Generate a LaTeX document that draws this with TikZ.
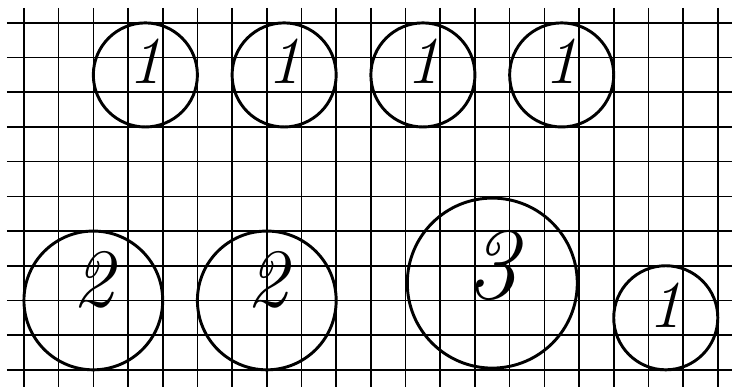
\documentclass[tikz,border=0pt]{standalone}
\begin{document}
\begin{tikzpicture}[gridline/.style={line width=1.3pt},
  disc/.style={line width=2.4pt},
  digit/.style={font=\fontsize{55}{55}\selectfont\itshape, inner sep=0pt}]
  \useasboundingbox (-0.69,0.66) rectangle (20.64,-10.49);
  % squared paper
  \foreach \x in {0,...,20} \draw[gridline] (\x,0.43) -- (\x,-10.49);
  \foreach \y in {0,...,10} \draw[gridline] (-0.49,-\y) -- (20.4,-\y);
  % top row: four small circles
  \foreach \cx [count=\i] in {3.5,7.5,11.5,15.5} {
    \draw[disc] (\cx,-1.5) circle (1.5);
    \node[digit] (top\i) at (\cx,-1.1) {1};
  }
  % bottom row
  \draw[disc] (2,-8) circle (2);
  \node[digit, font=\fontsize{68}{68}\selectfont\itshape] (twoA) at (2,-7.4) {2};
  \draw[disc] (7,-8) circle (2);
  \node[digit, font=\fontsize{68}{68}\selectfont\itshape] (twoB) at (7,-7.4) {2};
  \draw[disc] (13.5,-7.5) circle (2.45);
  \node[digit, font=\fontsize{84}{84}\selectfont\itshape] (three) at (13.5,-7) {3};
  \draw[disc] (18.5,-8.5) circle (1.5);
  \node[digit] (oneB) at (18.5,-8.15) {1};
\end{tikzpicture}
\end{document}
